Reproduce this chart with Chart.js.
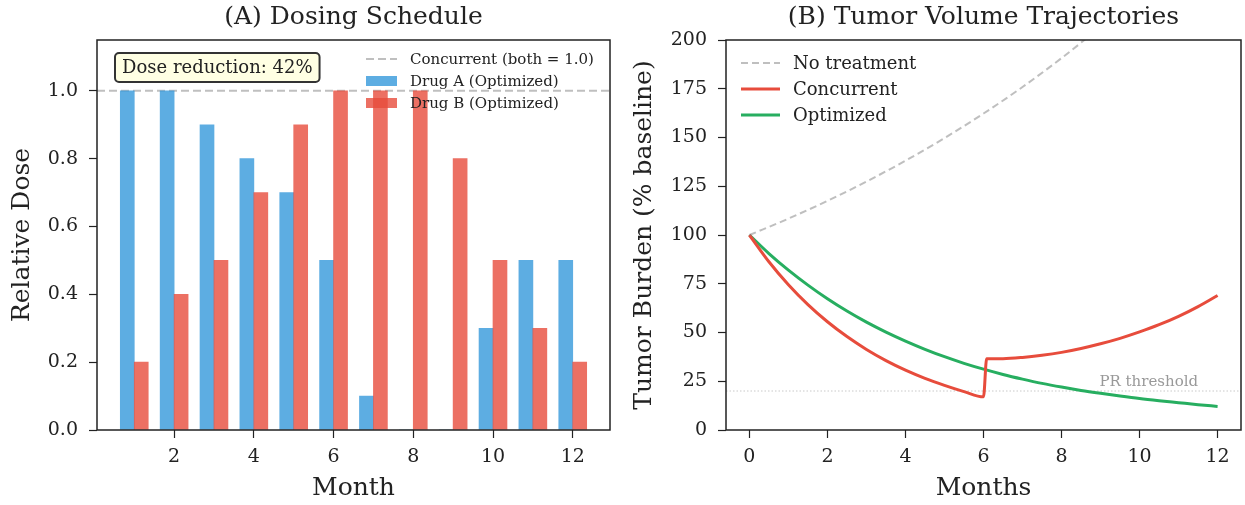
<!DOCTYPE html>
<html>
<head>
<meta charset="utf-8">
<script src="https://cdn.jsdelivr.net/npm/chart.js@4.4.1/dist/chart.umd.min.js"></script>
<style>
  body { margin: 0; background: #fff; }
  #wrap { position: relative; width: 1245px; height: 505px; }
  #doseChart { position: absolute; left: 0; top: 0; }
  #tumorChart { position: absolute; left: 622px; top: 0; }
</style>
</head>
<body>
<div id="wrap">
  <canvas id="doseChart" width="622" height="505"></canvas>
  <canvas id="tumorChart" width="623" height="505"></canvas>
</div>
<script>
// ---- panel A data ----
const months = [1, 2, 3, 4, 5, 6, 7, 8, 9, 10, 11, 12];
const drugA = [1.0, 1.0, 0.9, 0.8, 0.7, 0.5, 0.1, 0.0, 0.0, 0.3, 0.5, 0.5];
const drugB = [0.2, 0.4, 0.5, 0.7, 0.9, 1.0, 1.0, 1.0, 0.8, 0.5, 0.3, 0.2];
const concurrentDose = 1.0;
const monthTicks = [2, 4, 6, 8, 10, 12];
const doseTicks = [0, 0.2, 0.4, 0.6, 0.8, 1.0];
const doseReductionLabel = 'Dose reduction: 42%';

// ---- panel B data ----
const noTxMonths = [0, 1, 2, 3, 4, 5, 6, 7, 8, 9];
const noTxBurden = [100, 108.4, 117.5, 127.4, 138.1, 149.7, 162.3, 175.9, 190.7, 206.7];
const concMonths = [0, 0.5, 1, 1.5, 2, 2.5, 3, 3.5, 4, 4.5, 5, 5.5, 6, 6.08, 6.5, 7, 7.5, 8, 8.5, 9, 9.5, 10, 10.5, 11, 11.5, 12];
const concBurden = [100, 86.3, 74.5, 64.3, 55.5, 47.9, 41.3, 35.6, 30.7, 26.5, 22.9, 19.7, 17.0, 36.5, 36.6, 37.2, 38.3, 39.8, 41.8, 44.2, 47.0, 50.3, 54.0, 58.3, 63.3, 69.0];
const optMonths = [0, 0.5, 1, 1.5, 2, 2.5, 3, 3.5, 4, 4.5, 5, 5.5, 6, 6.5, 7, 7.5, 8, 8.5, 9, 9.5, 10, 10.5, 11, 11.5, 12];
const optBurden = [100, 90.5, 82, 74.3, 67.3, 61, 55.3, 50.2, 45.6, 41.4, 37.6, 34.2, 31.2, 28.5, 26.1, 23.9, 22, 20.3, 18.8, 17.4, 16.1, 15, 14, 13, 12.1];
const prThreshold = 20;
const timeTicks = [0, 2, 4, 6, 8, 10, 12];
const burdenTicks = [0, 25, 50, 75, 100, 125, 150, 175, 200];

const INK = '#222';
const SERIF = "'DejaVu Serif', serif";
Chart.defaults.font.family = SERIF;
Chart.defaults.color = INK;

const pts = (xs, ys) => xs.map((x, i) => ({x: x, y: ys[i]}));

// frame, title, in-axes legend and text labels
const panelDeco = {
    id: 'panelDeco',
    afterDraw(chart, args, opts) {
        const ctx = chart.ctx;
        const a = chart.chartArea;
        ctx.save();
        ctx.strokeStyle = INK;
        ctx.lineWidth = 1.5;
        ctx.strokeRect(a.left, a.top, a.right - a.left, a.bottom - a.top);

        ctx.fillStyle = INK;
        ctx.font = `25px ${SERIF}`;
        ctx.textAlign = 'center';
        ctx.textBaseline = 'middle';
        ctx.fillText(opts.title, (a.left + a.right) / 2, 17);

        // legend
        const lg = opts.legend;
        ctx.font = `${lg.fontSize}px ${SERIF}`;
        ctx.textAlign = 'left';
        chart.data.datasets.filter(d => d.label).forEach((d, i) => {
            const y = lg.y + i * lg.rowGap;
            const x0 = lg.x;
            if (d.type === 'bar') {
                ctx.fillStyle = d.backgroundColor;
                ctx.fillRect(x0, y - 5, lg.handle, 10);
            } else {
                ctx.strokeStyle = d.borderColor;
                ctx.lineWidth = d.borderWidth;
                ctx.setLineDash(d.borderDash || []);
                ctx.beginPath();
                ctx.moveTo(x0, y);
                ctx.lineTo(x0 + lg.handle, y);
                ctx.stroke();
                ctx.setLineDash([]);
            }
            ctx.fillStyle = INK;
            ctx.fillText(d.label, x0 + lg.handle + lg.textGap, y + 1);
        });

        if (opts.note) {
            const n = opts.note;
            ctx.font = `18px ${SERIF}`;
            const w = ctx.measureText(n.text).width + 14;
            const h = 29;
            ctx.beginPath();
            ctx.roundRect(n.x, n.y, w, h, 4);
            ctx.fillStyle = 'rgba(255,255,224,0.9)';
            ctx.fill();
            ctx.lineWidth = 2;
            ctx.strokeStyle = '#333';
            ctx.stroke();
            ctx.fillStyle = INK;
            ctx.textAlign = 'left';
            ctx.fillText(n.text, n.x + 7, n.y + h / 2 + 1);
        }
        if (opts.thresholdText) {
            const t = opts.thresholdText;
            const xs = chart.scales.x, ys = chart.scales.y;
            ctx.font = `15px ${SERIF}`;
            ctx.fillStyle = '#999';
            ctx.textAlign = 'right';
            ctx.textBaseline = 'bottom';
            ctx.fillText(t.text, xs.getPixelForValue(t.x), ys.getPixelForValue(t.y) - 1);
        }
        ctx.restore();
    }
};

function axis(min, max, tickList, title, isX, fmt) {
    return {
        type: 'linear',
        min: min,
        max: max,
        offset: false,
        border: {display: false},
        grid: {display: true, offset: false, drawOnChartArea: false, drawTicks: true, tickLength: 8, tickColor: INK, tickWidth: 1.2},
        ticks: {font: {size: 19}, color: INK, padding: isX ? 8 : 11, callback: fmt},
        afterBuildTicks: s => { s.ticks = tickList.map(v => ({value: v})); },
        title: {display: true, text: title, font: {size: 25}, color: INK,
                padding: isX ? {top: 0, bottom: 2} : {top: 7, bottom: 0}}
    };
}

// ---- panel A ----
const xMinA = 0.065, xMaxA = 12.935;
const xA = axis(xMinA, xMaxA, monthTicks, 'Month', true, v => v);
xA.afterFit = s => { s.height = 75; };
const yA = axis(0, 1.15, doseTicks, 'Relative Dose', false, v => v.toFixed(1));
yA.afterFit = s => { s.width = 97; };

new Chart(document.getElementById('doseChart').getContext('2d'), {
    data: {
        datasets: [
            {
                type: 'line',
                label: 'Concurrent (both = 1.0)',
                data: [{x: xMinA, y: concurrentDose}, {x: xMaxA, y: concurrentDose}],
                borderColor: 'rgba(128,128,128,0.5)',
                borderWidth: 2,
                borderDash: [8, 4],
                pointRadius: 0,
                order: 3
            },
            {
                type: 'bar',
                label: 'Drug A (Optimized)',
                data: pts(months.map(m => m - 0.175), drugA),
                backgroundColor: 'rgba(52,152,219,0.8)',
                barThickness: 14,
                grouped: false,
                order: 2
            },
            {
                type: 'bar',
                label: 'Drug B (Optimized)',
                data: pts(months.map(m => m + 0.175), drugB),
                backgroundColor: 'rgba(231,76,60,0.8)',
                barThickness: 14,
                grouped: false,
                order: 1
            }
        ]
    },
    options: {
        responsive: false,
        animation: false,
        layout: {padding: {top: 40, right: 12, left: 0, bottom: 0}},
        plugins: {
            legend: {display: false},
            tooltip: {enabled: false},
            panelDeco: {
                title: '(A) Dosing Schedule',
                legend: {x: 366, y: 59, rowGap: 22, handle: 31, textGap: 13, fontSize: 15},
                note: {x: 115, y: 53, text: doseReductionLabel}
            }
        },
        scales: {x: xA, y: yA}
    },
    plugins: [panelDeco]
});

// ---- panel B ----
const xMinB = -0.6, xMaxB = 12.6;
const xB = axis(xMinB, xMaxB, timeTicks, 'Months', true, v => v);
xB.afterFit = s => { s.height = 75; };
const yB = axis(0, 200, burdenTicks, 'Tumor Burden (% baseline)', false, v => v);
yB.afterFit = s => { s.width = 104; };

const lineStyle = {pointRadius: 0, cubicInterpolationMode: 'monotone', clip: 0, fill: false};

new Chart(document.getElementById('tumorChart').getContext('2d'), {
    type: 'line',
    data: {
        datasets: [
            Object.assign({
                label: 'No treatment',
                data: pts(noTxMonths, noTxBurden),
                borderColor: 'rgba(128,128,128,0.5)',
                borderWidth: 2,
                borderDash: [7, 4]
            }, lineStyle),
            Object.assign({
                label: 'Concurrent',
                data: pts(concMonths, concBurden),
                borderColor: '#e74c3c',
                borderWidth: 3
            }, lineStyle),
            Object.assign({
                label: 'Optimized',
                data: pts(optMonths, optBurden),
                borderColor: '#27ae60',
                borderWidth: 3
            }, lineStyle),
            Object.assign({
                label: '',
                data: [{x: xMinB, y: prThreshold}, {x: xMaxB, y: prThreshold}],
                borderColor: 'rgba(160,160,160,0.7)',
                borderWidth: 0.8,
                borderDash: [1.5, 2],
                order: 5
            }, lineStyle)
        ]
    },
    options: {
        responsive: false,
        animation: false,
        layout: {padding: {top: 40, right: 4, left: 0, bottom: 0}},
        plugins: {
            legend: {display: false},
            tooltip: {enabled: false},
            panelDeco: {
                title: '(B) Tumor Volume Trajectories',
                legend: {x: 741 - 622, y: 63, rowGap: 26, handle: 39, textGap: 13, fontSize: 18},
                thresholdText: {x: 11.5, y: prThreshold, text: 'PR threshold'}
            }
        },
        scales: {x: xB, y: yB}
    },
    plugins: [panelDeco]
});
</script>
</body>
</html>
